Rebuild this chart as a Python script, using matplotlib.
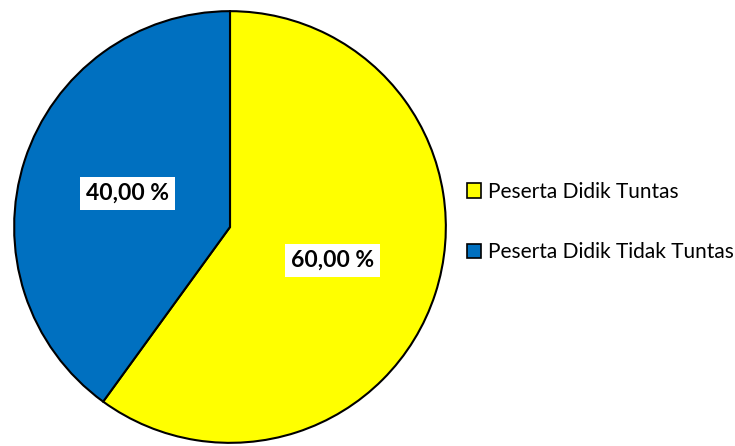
import matplotlib.pyplot as plt
from matplotlib.patches import Patch

labels = ['Peserta Didik Tuntas', 'Peserta Didik Tidak Tuntas']
values = [60.0, 40.0]
colors = ['#FFFF00', '#0070C0']

plt.rcParams['font.family'] = ['Lato', 'DejaVu Sans']

fig = plt.figure(figsize=(7.35, 4.46), dpi=100)
ax = fig.add_axes([12 / 735, 1 / 446, 436 / 735, 436 / 446])

wedges, texts, autotexts = ax.pie(
    values, colors=colors, startangle=90, counterclock=False,
    autopct=lambda p: f'{p:.2f} %'.replace('.', ','), pctdistance=0.5,
    wedgeprops=dict(edgecolor='black', linewidth=1.5))
for t in autotexts:
    t.set_fontsize(16.5)
    t.set_fontweight('bold')
    t.set_color('black')
    t.set_bbox(dict(facecolor='white', edgecolor='none', pad=4.5))
ax.set_xlim(-1.01, 1.01)
ax.set_ylim(-1.01, 1.01)
ax.set_aspect('equal')

handles = [Patch(facecolor=c, edgecolor='black', linewidth=1.2) for c in colors]
fig.legend(handles, labels, loc='center left', bbox_to_anchor=(448 / 735, 1 - 222 / 446),
           frameon=False, fontsize=15, handlelength=0.7, handleheight=0.7,
           handletextpad=0.3, labelspacing=1.95)

fig.savefig('out.png')
